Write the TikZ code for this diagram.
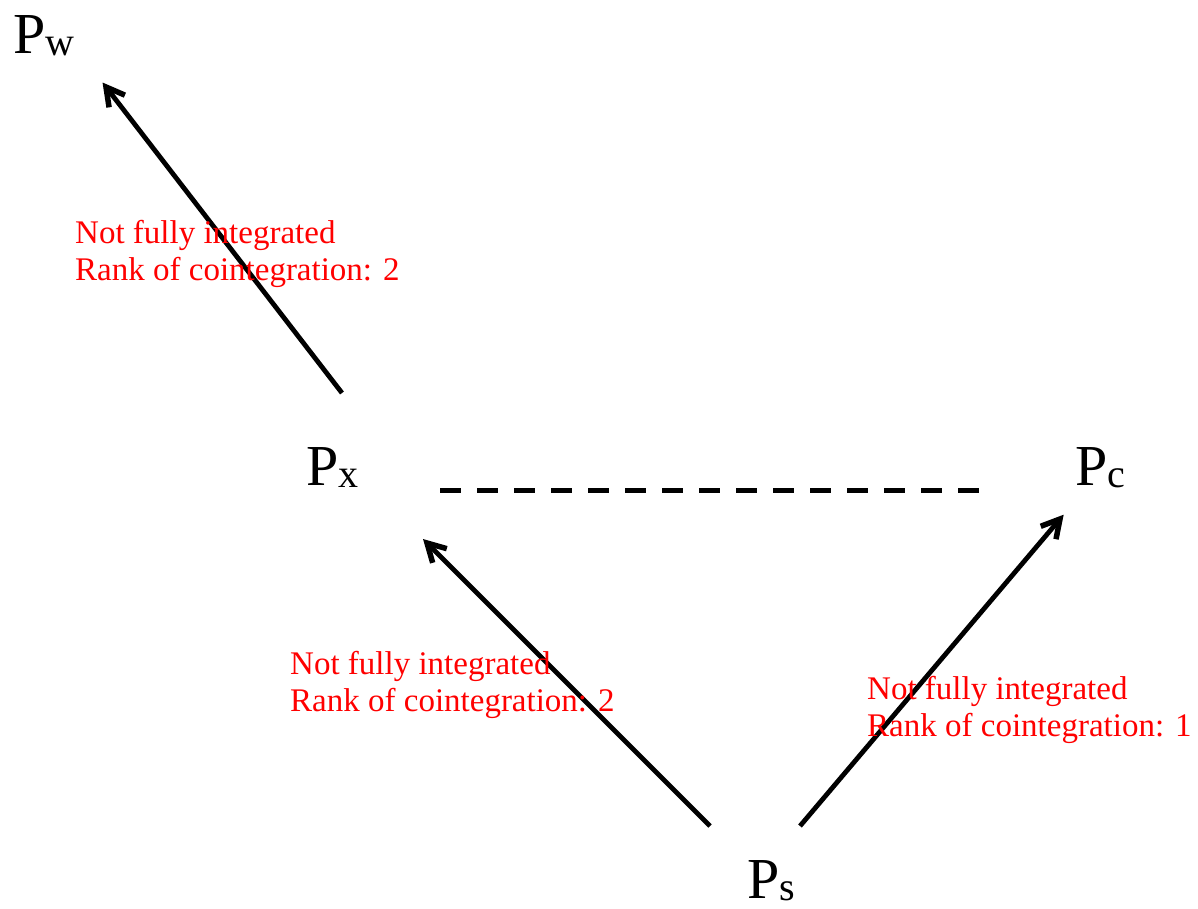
\documentclass[tikz,border=0pt]{standalone}
\usepackage{fontspec}
\setmainfont{Liberation Serif}
\usetikzlibrary{calc}
\tikzset{
  var/.style={anchor=base west, inner sep=0pt, font=\fontsize{58}{58}\selectfont},
  note/.style={anchor=base west, inner sep=0pt, align=left, text=red, font=\fontsize{33}{37}\selectfont},
  arr/.style={line width=4.8pt, shorten >=2pt},
  head/.style={line width=5.5pt, line join=miter, miter limit=10},
  link/.style={line width=5pt, dash pattern=on 21pt off 16pt}
}
\newcommand{\subs}[1]{\raisebox{-2pt}{\fontsize{40}{40}\selectfont #1}}
\newcommand{\arrowto}[2]{%
  \draw[arr] (#1) -- (#2);
  \draw[head] ($(#2)!18pt!(#1)!10pt!90:(#1)$) -- (#2) -- ($(#2)!18pt!(#1)!10pt!-90:(#1)$);}
\begin{document}
\begin{tikzpicture}[x=1pt,y=-1pt]
\useasboundingbox (0,0) rectangle (1198,908);
\node[var] (pw) at (13,53) {P\subs{w}};
\node[var] (px) at (306,485) {P\subs{x}};
\node[var] (pc) at (1075,485) {P\subs{c}};
\node[var] (ps) at (747,898) {P\subs{s}};
\coordinate (a1s) at (342,393);
\coordinate (a1e) at (106,87);
\coordinate (a2s) at (710,826);
\coordinate (a2e) at (427,543);
\coordinate (a3s) at (800,826);
\coordinate (a3e) at (1060,519);
\coordinate (d1) at (440,490);
\coordinate (d2) at (990,490);
\arrowto{a1s}{a1e}
\arrowto{a2s}{a2e}
\arrowto{a3s}{a3e}
\draw[link] (d1) -- (d2);
\node[note] (n1) at (75,280) {Not fully integrated\\Rank of cointegration: 2};
\node[note] (n2) at (290,711) {Not fully integrated\\Rank of cointegration: 2};
\node[note] (n3) at (867,736) {Not fully integrated\\Rank of cointegration: 1};
\end{tikzpicture}
\end{document}
